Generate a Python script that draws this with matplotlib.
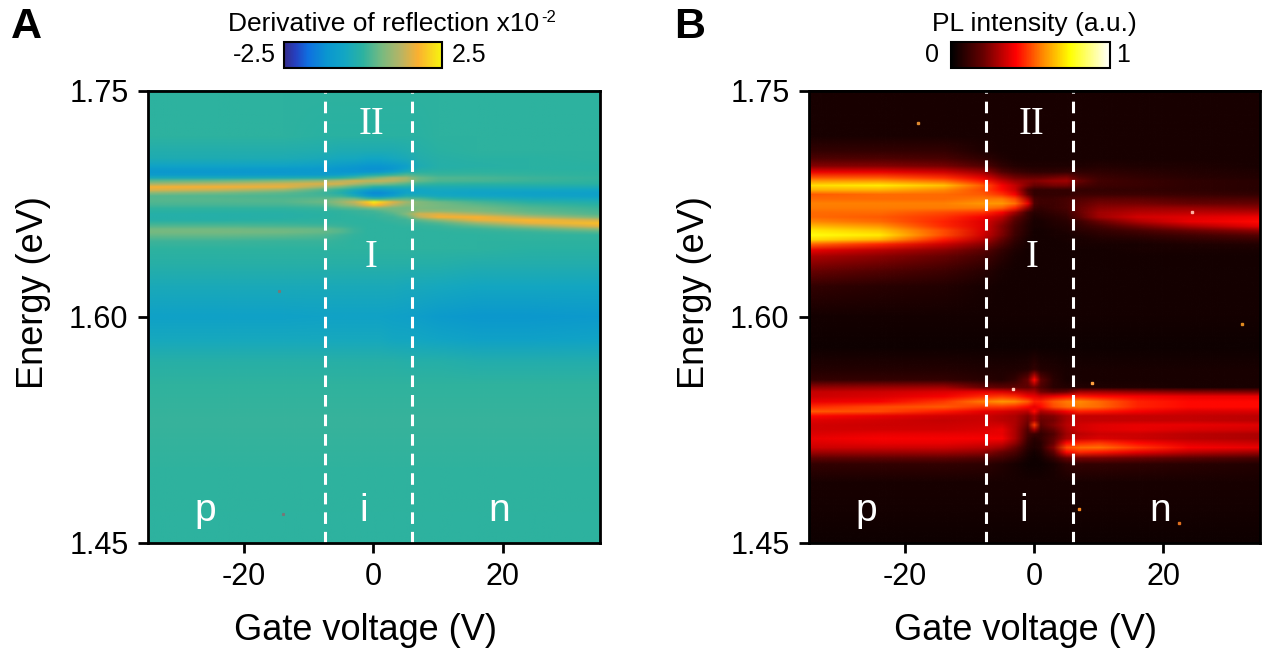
import numpy as np
import matplotlib
matplotlib.use("Agg")
import matplotlib.pyplot as plt
from matplotlib.colors import LinearSegmentedColormap, Normalize
from matplotlib.cm import ScalarMappable
from matplotlib.image import NonUniformImage

plt.rcParams['font.family'] = ['Liberation Sans', 'DejaVu Sans']
plt.rcParams['axes.unicode_minus'] = False

gate_voltage = [-35, -24, -14, -8, -5, -3, -1, 0, 1, 3, 5, 7, 10, 16, 24, 35]

energy_a = [1.75, 1.72, 1.71, 1.705, 1.70, 1.698, 1.696, 1.694, 1.692, 1.69, 1.688, 1.686, 1.684, 1.682,
            1.68, 1.678, 1.676, 1.674, 1.672, 1.67, 1.668, 1.666, 1.664, 1.662, 1.66, 1.658, 1.656, 1.654,
            1.65, 1.645, 1.635, 1.62, 1.60, 1.585, 1.57, 1.555, 1.53, 1.50, 1.47, 1.45]
reflection = [
    [0]*16,
    [0, 0, 0, -.05, -.05, -.05, -.05, -.05, -.05, -.05, -.05, -.05, 0, 0, 0, 0],
    [-.2, -.2, -.2, -.25, -.3, -.3, -.3, -.3, -.3, -.3, -.25, -.15, -.05, 0, 0, 0],
    [-.3, -.3, -.35, -.4, -.5, -.5, -.6, -.6, -.6, -.5, -.4, -.2, -.1, -.05, -.05, 0],
    [-.7, -.7, -.7, -.8, -.9, -1.0, -1.1, -1.1, -1.1, -1.0, -.8, -.3, -.15, -.1, -.05, -.05],
    [-.9, -.9, -.95, -1.0, -1.1, -1.15, -1.2, -1.2, -1.2, -1.05, -.7, -.2, -.1, -.05, -.05, -.05],
    [-1.05, -1.05, -1.05, -1.0, -1.1, -1.1, -1.1, -1.05, -1.0, -.7, -.3, -.05, 0, 0, 0, 0],
    [-.9, -.9, -.9, -.9, -.8, -.6, -.3, -.2, -.1, .1, .3, .2, .1, .1, .05, 0],
    [-.4, -.4, -.3, -.2, 0, .2, .5, .6, .8, 1.1, 1.0, .5, .3, .25, .15, .05],
    [.4, .5, .7, .9, 1.2, 1.4, 1.3, 1.3, 1.3, 1.2, .9, .45, .25, .2, .1, 0],
    [1.0, 1.2, 1.4, 1.5, 1.4, 1.1, .8, .7, .7, .5, .3, .1, 0, -.05, -.05, -.05],
    [1.7, 1.7, 1.6, 1.0, .6, .3, .1, -.1, -.2, -.2, -.2, -.3, -.3, -.3, -.3, -.3],
    [1.5, 1.3, .9, .3, 0, -.4, -.8, -.9, -.9, -.8, -.7, -.6, -.5, -.55, -.55, -.6],
    [.8, .6, .4, .15, -.2, -.7, -1.2, -1.3, -1.3, -1.1, -.7, -.6, -.6, -.7, -.75, -.8],
    [.35, .3, .25, .2, .1, -.3, -.9, -1.1, -1.1, -.8, -.3, -.3, -.5, -.6, -.7, -.75],
    [.35, .35, .3, .4, .6, .6, .2, .1, .1, .3, .4, .3, 0, -.2, -.4, -.5],
    [.3, .3, .3, .5, .9, 1.3, 2.0, 2.4, 2.1, 1.5, 1.0, .7, .5, .2, -.1, -.25],
    [.2, .2, .2, .3, .7, 1.0, 1.6, 1.9, 1.7, 1.2, .8, .7, .6, .4, .15, -.05],
    [.05, .05, .05, .1, .3, .4, .6, .7, .7, .6, .55, .65, .6, .55, .3, .1],
    [-.05, -.05, -.05, 0, .05, .1, .15, .2, .3, .5, .6, .8, .8, .65, .4, .2],
    [-.15, -.15, -.1, -.05, 0, .05, .1, .1, .15, .3, .7, 1.4, 1.5, 1.1, .6, .3],
    [-.15, -.15, -.1, -.05, 0, 0, .05, .05, .1, .15, .4, 1.2, 1.7, 1.75, 1.2, .6],
    [-.1, -.1, -.05, 0, 0, 0, 0, .03, .05, .1, .15, .4, .8, 1.6, 1.8, 1.4],
    [.1, .1, .08, .05, .05, 0, 0, 0, 0, .05, .1, .15, .3, .9, 1.6, 1.9],
    [.3, .3, .25, .2, .1, .05, 0, 0, 0, 0, .05, .05, .1, .4, .9, 1.6],
    [.55, .55, .5, .45, .3, .1, 0, 0, 0, 0, 0, 0, .05, .1, .35, .8],
    [.6, .6, .55, .45, .3, .1, 0, 0, 0, 0, 0, 0, 0, .05, .1, .3],
    [.45, .45, .4, .3, .15, .05, 0, 0, 0, 0, 0, 0, 0, 0, .05, .05],
    [.15, .15, .1, .1, .05, 0, 0, 0, 0, 0, 0, 0, 0, 0, 0, 0],
    [0, 0, 0, 0, 0, 0, 0, 0, 0, 0, 0, 0, 0, 0, -.05, -.05],
    [-.1, -.1, -.1, -.1, -.1, -.1, -.1, -.1, -.1, -.1, -.1, -.15, -.15, -.2, -.2, -.2],
    [-.4, -.4, -.4, -.4, -.4, -.4, -.4, -.4, -.4, -.4, -.45, -.45, -.5, -.55, -.55, -.55],
    [-.75, -.75, -.75, -.72, -.72, -.72, -.72, -.72, -.72, -.75, -.8, -.85, -.95, -1.05, -1.05, -1.0],
    [-.5, -.5, -.5, -.5, -.5, -.5, -.5, -.5, -.5, -.55, -.55, -.6, -.65, -.75, -.75, -.7],
    [-.1, -.1, -.1, -.1, -.1, -.1, -.1, -.1, -.1, -.1, -.15, -.15, -.15, -.2, -.2, -.2],
    [.03]*16,
    [.08]*16,
    [.03]*16,
    [0]*16,
    [0]*16,
]

energy_b = [1.75, 1.72, 1.71, 1.705, 1.70, 1.696, 1.692, 1.69, 1.687, 1.684, 1.681, 1.678, 1.675, 1.672,
            1.669, 1.666, 1.663, 1.66, 1.657, 1.654, 1.651, 1.648, 1.644, 1.64, 1.63, 1.62, 1.60, 1.58,
            1.565, 1.558, 1.553, 1.55, 1.547, 1.5435, 1.54, 1.537, 1.534, 1.531, 1.528, 1.525, 1.522,
            1.519, 1.516, 1.513, 1.51, 1.506, 1.502, 1.49, 1.47, 1.45]
pl_intensity = [
    [.05]*16,
    [.05]*16,
    [.1, .1, .1, .06, .05, .05, .05, .05, .05, .05, .05, .05, .05, .05, .05, .05],
    [.15, .15, .14, .09, .06, .05, .05, .05, .05, .05, .05, .05, .05, .05, .05, .05],
    [.24, .24, .22, .16, .09, .07, .06, .06, .06, .06, .06, .06, .07, .06, .06, .05],
    [.38, .38, .34, .27, .16, .12, .1, .09, .09, .09, .1, .09, .09, .08, .07, .06],
    [.52, .52, .47, .38, .27, .22, .2, .2, .2, .22, .24, .16, .12, .1, .08, .07],
    [.6, .6, .54, .44, .33, .27, .25, .24, .25, .27, .28, .2, .13, .11, .09, .08],
    [.7, .72, .66, .52, .4, .33, .24, .2, .2, .22, .22, .15, .12, .11, .09, .08],
    [.64, .64, .58, .5, .42, .34, .15, .1, .1, .1, .1, .1, .1, .1, .09, .08],
    [.52, .54, .54, .52, .47, .4, .18, .1, .1, .1, .1, .12, .12, .12, .11, .1],
    [.54, .54, .54, .56, .56, .5, .3, .14, .12, .12, .14, .16, .18, .18, .16, .15],
    [.57, .57, .57, .6, .6, .55, .38, .15, .12, .12, .14, .18, .22, .22, .2, .2],
    [.56, .56, .56, .56, .53, .45, .25, .12, .1, .12, .14, .2, .25, .27, .27, .25],
    [.54, .54, .5, .47, .4, .28, .12, .08, .08, .1, .12, .2, .28, .31, .32, .32],
    [.54, .52, .47, .4, .32, .2, .1, .06, .07, .08, .1, .18, .28, .35, .37, .39],
    [.58, .54, .45, .37, .27, .16, .08, .05, .05, .07, .08, .12, .2, .3, .38, .42],
    [.65, .6, .46, .37, .24, .14, .07, .05, .05, .06, .07, .1, .14, .22, .3, .38],
    [.72, .67, .5, .36, .24, .13, .07, .04, .04, .05, .06, .08, .1, .14, .2, .26],
    [.76, .72, .5, .35, .23, .12, .06, .04, .04, .05, .05, .06, .08, .1, .13, .17],
    [.7, .64, .44, .31, .19, .1, .05, .04, .04, .04, .05, .05, .06, .07, .09, .11],
    [.54, .46, .34, .25, .15, .08, .05, .04, .04, .04, .04, .05, .05, .05, .06, .07],
    [.38, .32, .25, .18, .1, .06, .04, .04, .04, .04, .04, .04, .04, .05, .05, .05],
    [.3, .25, .2, .14, .08, .05, .04, .04, .04, .04, .04, .04, .04, .04, .04, .04],
    [.2, .16, .12, .08, .05, .04, .04, .04, .04, .04, .04, .04, .04, .04, .04, .04],
    [.1, .08, .07, .05, .04, .04, .04, .04, .04, .04, .04, .04, .04, .04, .04, .04],
    [.04]*16,
    [.03]*16,
    [.07, .07, .07, .06, .06, .06, .07, .1, .07, .06, .05, .05, .05, .05, .05, .05],
    [.1, .1, .1, .08, .07, .1, .2, .42, .18, .08, .05, .05, .05, .05, .05, .05],
    [.26, .27, .28, .2, .18, .18, .18, .22, .15, .08, .07, .07, .06, .06, .05, .05],
    [.33, .34, .36, .38, .36, .34, .3, .3, .22, .18, .2, .28, .28, .26, .24, .23],
    [.34, .36, .4, .46, .48, .46, .4, .38, .35, .38, .42, .44, .42, .4, .38, .38],
    [.38, .4, .48, .56, .6, .58, .52, .45, .45, .52, .56, .58, .54, .45, .42, .42],
    [.46, .5, .52, .48, .48, .46, .42, .38, .42, .5, .54, .56, .54, .45, .42, .42],
    [.52, .5, .44, .38, .36, .34, .32, .42, .3, .34, .4, .45, .44, .4, .36, .36],
    [.42, .38, .35, .34, .32, .3, .24, .3, .22, .24, .3, .33, .33, .33, .33, .32],
    [.37, .35, .33, .34, .32, .3, .22, .3, .2, .22, .3, .33, .33, .33, .33, .32],
    [.35, .34, .34, .35, .35, .3, .2, .48, .18, .24, .31, .35, .37, .38, .38, .37],
    [.35, .35, .35, .36, .38, .3, .16, .3, .14, .2, .3, .35, .37, .38, .36, .35],
    [.36, .38, .38, .38, .38, .3, .14, .12, .1, .16, .28, .32, .34, .34, .32, .3],
    [.38, .4, .4, .4, .4, .3, .12, .08, .1, .18, .3, .34, .36, .34, .32, .3],
    [.36, .38, .38, .36, .34, .26, .1, .07, .08, .2, .42, .46, .48, .42, .36, .34],
    [.34, .34, .34, .32, .28, .2, .08, .06, .08, .24, .5, .54, .55, .48, .4, .38],
    [.28, .28, .28, .26, .2, .15, .06, .04, .06, .18, .42, .46, .44, .38, .32, .28],
    [.18, .18, .18, .16, .13, .09, .04, .03, .04, .1, .2, .22, .22, .2, .17, .14],
    [.1, .1, .1, .09, .07, .05, .03, .03, .03, .05, .09, .1, .1, .09, .08, .07],
    [.05]*16,
    [.04]*16,
    [.03]*16,
]

speck_v = [-18, 24.5, 32.2, -3.3, 9, 7, 22.5]
speck_e = [1.7285, 1.6695, 1.5955, 1.5525, 1.5565, 1.4725, 1.4635]
speck_c = ['#e08a30', '#ffb0a0', '#e08a20', '#ffd0c0', '#ffa040', '#ff8a20', '#e07020']

boundaries = [-7.4, 6.0]
x_ticks = [-20, 0, 20]
y_ticks = [1.45, 1.60, 1.75]
regions = [('p', -26, 1.4715), ('i', -1.5, 1.4715), ('n', 19.5, 1.4715)]
romans = [('II', -0.3, 1.7275), ('I', -0.3, 1.6395)]

W, H = 1263, 650
fig = plt.figure(figsize=(W/100, H/100), dpi=100, facecolor='white')

def rect(l, t, r, b):
    return [l/W, 1-b/H, (r-l)/W, (b-t)/H]

parula = LinearSegmentedColormap.from_list('p', [
    (0.0, '#352a87'), (0.07, '#2540c0'), (0.15, '#0f6fe0'), (0.27, '#0a96d0'), (0.38, '#12a6c4'), (0.5, '#2cb2a0'),
    (0.62, '#78ba80'), (0.74, '#b8b464'), (0.85, '#fbb030'), (1.0, '#f6f50f')])
hot = LinearSegmentedColormap.from_list('h', [
    (0.0, '#000000'), (0.2, '#660000'), (0.41, '#ff0000'), (0.58, '#ff8a00'), (0.75, '#ffff00'), (1.0, '#ffffff')])

def panel(box, z, e, cmap, norm, letter, lx):
    ax = fig.add_axes(rect(*box))
    im = NonUniformImage(ax, interpolation='bilinear', cmap=cmap, norm=norm,
                         extent=(-34.8, 35, 1.45, 1.75))
    im.set_data(gate_voltage, e[::-1], np.array(z)[::-1])
    ax.add_image(im)
    ax.set_xlim(-34.8, 35)
    ax.set_ylim(1.45, 1.75)
    ax.set_xticks(x_ticks)
    ax.set_yticks(y_ticks)
    ax.set_yticklabels(['%.2f' % t for t in y_ticks])
    ax.tick_params(length=7, width=2, labelsize=22, pad=7)
    for s in ax.spines.values():
        s.set_linewidth(2)
    ax.set_xlabel('Gate voltage (V)', fontsize=26, labelpad=15, x=0.481)
    ax.set_ylabel('Energy (eV)', fontsize=26, labelpad=13, y=0.553)
    for b in boundaries:
        ax.axvline(b, color='white', lw=2.2, dashes=(3.8, 2.6))
    for t, x, y in regions:
        ax.text(x, y, t, color='white', fontsize=28, ha='center', va='center')
    for t, x, y in romans:
        ax.text(x, y, t, color='white', fontsize=28, ha='center', va='center', family='Liberation Serif')
    fig.text(lx/W, 1-27/H, letter, fontsize=31, fontweight='bold', ha='left', va='center')
    return ax

ax_a = panel((148, 91, 600, 543), reflection, energy_a, parula, Normalize(-2.5, 2.5), 'A', 11)
ax_b = panel((809, 91, 1260, 543), pl_intensity, energy_b, hot, Normalize(0, 1), 'B', 674)
ax_a.plot([-14, -14.6], [1.4695, 1.6175], ls='none', marker='s', ms=1.2, color='#777777')
for v, e, c in zip(speck_v, speck_e, speck_c):
    ax_b.plot(v, e, ls='none', marker='s', ms=1.6, color=c)

def bar(box, cmap, norm, lo, lo_x, hi, hi_x):
    cax = fig.add_axes(rect(*box))
    cb = fig.colorbar(ScalarMappable(norm=norm, cmap=cmap), cax=cax, orientation='horizontal')
    cb.set_ticks([])
    cb.outline.set_linewidth(1.5)
    fig.text(lo_x/W, 1-55/H, lo, fontsize=18, ha='right', va='center')
    fig.text(hi_x/W, 1-55/H, hi, fontsize=18, ha='left', va='center')

bar((284, 42, 442, 68), parula, Normalize(-2.5, 2.5), '-2.5', 276, '2.5', 452)
bar((951, 42, 1110, 68), hot, Normalize(0, 1), '0', 939, '1', 1116)
fig.text(228/W, 1-24/H, 'Derivative of reflection x10', fontsize=19, ha='left', va='center')
fig.text(541/W, 1-18/H, '-2', fontsize=12, ha='left', va='center')
fig.text(1034/W, 1-24/H, 'PL intensity (a.u.)', fontsize=19, ha='center', va='center')

fig.savefig('out.png', dpi=100)
